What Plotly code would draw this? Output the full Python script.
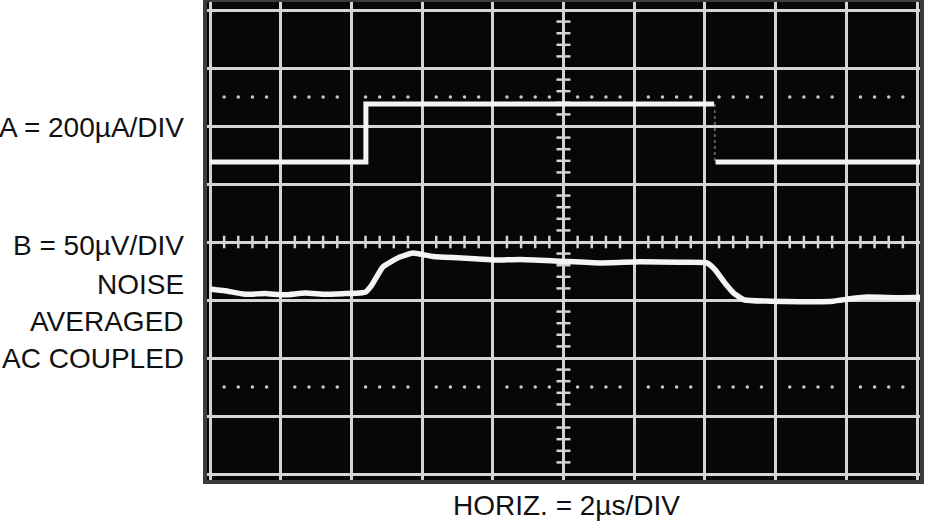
import plotly.graph_objects as go

# ---- data (time in µs, 2 µs/div; vertical in divisions from screen centre) ----
a_time = [0.00, 4.41, 4.41, 14.26, None, 14.30, 20.23]
a_level = [1.38, 1.38, 2.38, 2.38, None, 1.38, 1.38]

a_edge_time = [14.28, 14.28]
a_edge_level = [2.38, 1.38]

b_time = [0.00, 0.42, 0.99, 1.56, 2.12, 2.69, 3.25, 3.82, 4.24, 4.41, 4.58, 4.89,
          5.37, 5.74, 6.31, 7.27, 8.01, 8.77, 9.90, 11.03, 12.16, 13.30, 14.06,
          14.29, 14.57, 14.85, 15.13, 15.84, 16.69, 17.62, 18.10, 18.59, 19.52, 20.23]
b_level = [-0.81, -0.84, -0.90, -0.89, -0.91, -0.88, -0.90, -0.89, -0.88, -0.86, -0.74, -0.43,
           -0.26, -0.19, -0.25, -0.28, -0.31, -0.30, -0.33, -0.36, -0.34, -0.35, -0.36,
           -0.48, -0.71, -0.90, -1.00, -1.02, -1.03, -1.02, -0.98, -0.95, -0.96, -0.95]

left_labels = ["A = 200µA/DIV", "B = 50µV/DIV", "NOISE", "AVERAGED", "AC COUPLED"]
bottom_label = "HORIZ. = 2µs/DIV"

# graticule minor marks
minor_t = [round(0.4 * k, 2) for k in range(1, 50) if k % 5 != 0]
minor_v = [round(0.2 * k - 4, 2) for k in range(1, 40) if k % 5 != 0]

W, H = 926, 526
L, R, T, B = 205, 4, 0, 44
PX_PER_US = 707 / 20.0
PX_PER_DIV = 58.0
x0 = -(210 - L) / PX_PER_US
x1 = (W - R - 210) / PX_PER_US
y1 = 242 / PX_PER_DIV
y0 = -(H - B - 242) / PX_PER_DIV

grid_col = "#d4d4d4"
fig = go.Figure()

# dotted 10%/90% lines
for lv in (2.5, -2.5):
    fig.add_trace(go.Scatter(x=minor_t, y=[lv] * len(minor_t), mode="markers",
                             marker=dict(symbol="circle", size=3.5, color="#c8c8c8"),
                             hoverinfo="skip", showlegend=False))
# centre-line tick marks
fig.add_trace(go.Scatter(x=minor_t, y=[0] * len(minor_t), mode="markers",
                         marker=dict(symbol="line-ns", size=9, line=dict(width=2.5, color=grid_col)),
                         hoverinfo="skip", showlegend=False))
fig.add_trace(go.Scatter(x=[10] * len(minor_v), y=minor_v, mode="markers",
                         marker=dict(symbol="line-ew", size=10, line=dict(width=2.5, color=grid_col)),
                         hoverinfo="skip", showlegend=False))

# traces
fig.add_trace(go.Scatter(x=a_edge_time, y=a_edge_level, mode="lines",
                         line=dict(color="rgba(200,200,200,0.45)", width=2, dash="dot"),
                         hoverinfo="skip", showlegend=False))
fig.add_trace(go.Scatter(x=a_time, y=a_level, mode="lines", connectgaps=False,
                         line=dict(color="#f4f4f4", width=5), name="A", showlegend=False))
fig.add_trace(go.Scatter(x=b_time, y=b_level, mode="lines",
                         line=dict(color="#f4f4f4", width=5.5, shape="spline", smoothing=0.4),
                         name="B", showlegend=False))

fig.update_xaxes(range=[x0, x1], tick0=0, dtick=2, showgrid=True, gridcolor=grid_col,
                 gridwidth=2.5, showticklabels=False, zeroline=False, ticks="", showline=False,
                 fixedrange=True)
fig.update_yaxes(range=[y0, y1], tick0=0, dtick=1, showgrid=True, gridcolor=grid_col,
                 gridwidth=2.5, showticklabels=False, zeroline=False, ticks="", showline=False,
                 fixedrange=True)

font = dict(family="Liberation Sans, Arial, Helvetica, sans-serif", size=28, color="#111111")


def px_x(px):
    return (px - L) / (W - L - R)


def px_y(py):
    return (H - B - py) / (H - T - B)


label_y = [128, 246, 284, 321, 358]
annotations = []
for txt, py in zip(left_labels, label_y):
    annotations.append(dict(text=txt, xref="paper", yref="paper", x=px_x(186), y=px_y(py),
                            xanchor="right", yanchor="middle", showarrow=False, font=font))
annotations.append(dict(text=bottom_label, xref="paper", yref="paper", x=px_x(566), y=px_y(505),
                        xanchor="center", yanchor="middle", showarrow=False, font=font))

fig.update_layout(
    width=W, height=H, margin=dict(l=L, r=R, t=T, b=B, pad=0),
    paper_bgcolor="white", plot_bgcolor="#070707",
    annotations=annotations,
    shapes=[dict(type="rect", xref="paper", yref="paper", x0=0, x1=1, y0=0, y1=1,
                 line=dict(color="#3c3c3c", width=4), layer="above")],
)

fig.write_html("out.html", config={"displayModeBar": False},
               post_script="document.body.style.margin='0px';")
